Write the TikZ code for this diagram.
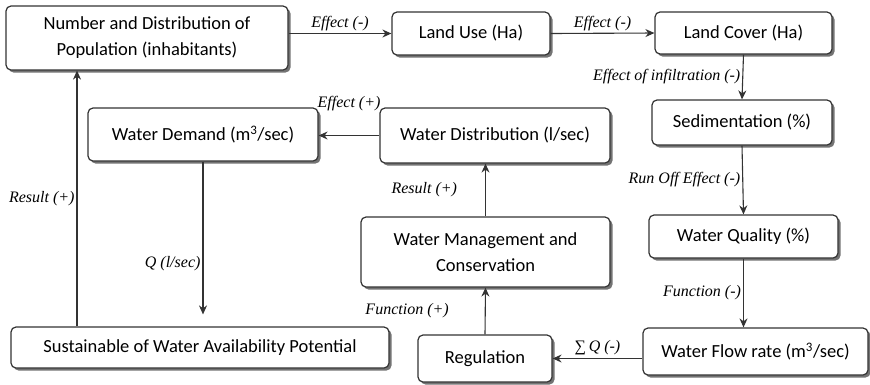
\documentclass[tikz,border=0pt]{standalone}
\usepackage{fontspec}
\setmainfont{Carlito}
\newfontfamily\labfont{Liberation Serif}
\usetikzlibrary{arrows.meta,shadows}
\begin{document}
\begin{tikzpicture}[x=1pt,y=-1pt,
  box/.style={draw=black!80, line width=1.2pt, rounded corners=5pt, fill=white,
    drop shadow={shadow xshift=2.5pt, shadow yshift=-2.5pt, fill=black!55, opacity=1},
    font=\fontsize{18.5}{26}\selectfont, align=center, inner sep=0pt},
  conn/.style={draw=black!80, line width=1.1pt, -{Stealth[length=9pt,width=8pt]}},
  lab/.style={font=\labfont\itshape\fontsize{16}{18}\selectfont, inner sep=2pt}]
\useasboundingbox (0,0) rectangle (870,384);

\node[box, minimum width=282pt, minimum height=64pt] (pop) at (147,38) {Number and Distribution of\\Population (inhabitants)};
\node[box, minimum width=158pt, minimum height=43pt] (landuse) at (471,33.5) {Land Use (Ha)};
\node[box, minimum width=177pt, minimum height=42pt] (landcover) at (743.5,33) {Land Cover (Ha)};
\node[box, minimum width=180pt, minimum height=45pt] (sed) at (742,122.5) {Sedimentation (\%)};
\node[box, minimum width=189pt, minimum height=43pt] (wq) at (743.5,236.5) {Water Quality (\%)};
\node[box, minimum width=225pt, minimum height=47pt] (wfr) at (755.5,351.5) {Water Flow rate (m\textsuperscript{3}/sec)};
\node[box, minimum width=134pt, minimum height=47pt] (reg) at (485,358.5) {Regulation};
\node[box, minimum width=249pt, minimum height=70pt] (wmc) at (485.5,252) {Water Management and\\Conservation};
\node[box, minimum width=230pt, minimum height=55pt] (wdist) at (495,135.5) {Water Distribution (l/sec)};
\node[box, minimum width=230pt, minimum height=53pt] (wdem) at (203,134.5) {Water Demand (m\textsuperscript{3}/sec)};
\node[box, minimum width=378pt, minimum height=41pt] (sust) at (200,347.5) {Sustainable of Water Availability Potential};

\coordinate (rx) at (77,0);

\draw[conn] (pop.east |- landuse.west) -- node[lab, above] {Effect (-)} (landuse.west);
\draw[conn] (landuse.east) -- node[lab, above] {Effect (-)} (landcover.west);
\draw[conn] (landcover.south) -- node[lab, left] {Effect of infiltration (-)} (sed.north);
\draw[conn] (sed.south) -- node[lab, left] {Run Off Effect (-)} (wq.north);
\draw[conn] (wq.south) -- node[lab, left] {Function (-)} (wq.south |- wfr.north);
\draw[conn] (wfr.west |- reg.east) -- node[lab, above=1pt] {∑\,Q (-)} (reg.east);
\draw[conn] (reg.north) -- node[lab, left=34pt] {Function (+)} (wmc.south);
\draw[conn] (wmc.north) -- node[lab, left=26pt] {Result (+)} (wmc.north |- wdist.south);
\draw[conn] (wdist.west) -- node[lab, above=22pt] {Effect (+)} (wdist.west -| wdem.east);
\draw[conn, shorten >=12pt] (wdem.south) -- node[lab, left, pos=0.62] {Q (l/sec)} (wdem.south |- sust.north);
\draw[conn] (sust.north -| rx) -- node[lab, left] {Result (+)} (pop.south -| rx);
\end{tikzpicture}
\end{document}
